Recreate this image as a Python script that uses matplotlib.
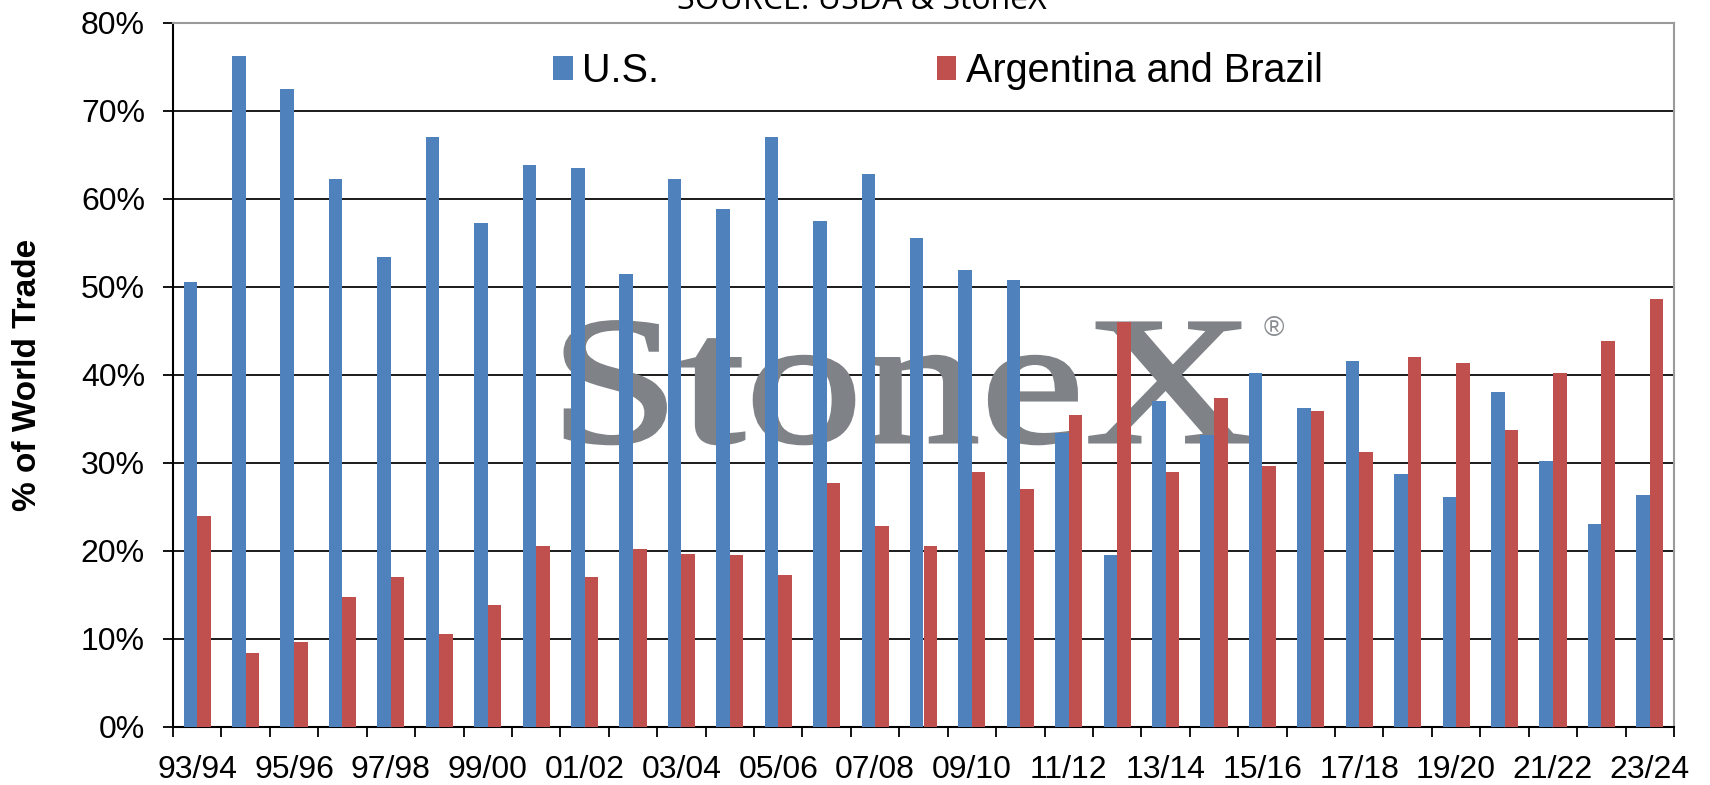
import matplotlib.pyplot as plt
import numpy as np
from matplotlib.textpath import TextPath
from matplotlib.patches import PathPatch
from matplotlib.font_manager import FontProperties
from matplotlib.transforms import Affine2D

# * Dados
safras = ["93/94", "94/95", "95/96", "96/97", "97/98", "98/99", "99/00", "00/01",
          "01/02", "02/03", "03/04", "04/05", "05/06", "06/07", "07/08", "08/09",
          "09/10", "10/11", "11/12", "12/13", "13/14", "14/15", "15/16", "16/17",
          "17/18", "18/19", "19/20", "20/21", "21/22", "22/23", "23/24"]

eua = [50.6, 76.3, 72.5, 62.3, 53.4, 67.0, 57.3, 63.9, 63.5, 51.5, 62.3, 58.9,
       67.0, 57.5, 62.8, 55.6, 51.9, 50.8, 33.4, 19.5, 37.1, 33.2, 40.2, 36.3,
       41.6, 28.8, 26.1, 38.1, 30.2, 23.1, 26.4]

arg_bra = [24.0, 8.4, 9.7, 14.8, 17.1, 10.6, 13.9, 20.6, 17.0, 20.2, 19.7, 19.5,
           17.3, 27.7, 22.8, 20.6, 29.0, 27.0, 35.4, 46.0, 29.0, 37.4, 29.7, 35.9,
           31.3, 42.1, 41.4, 33.7, 40.2, 43.9, 48.6]

legenda = ["U.S.", "Argentina and Brazil"]
cores = ["#4F81BD", "#C0504D"]

plt.rcParams["font.family"] = ["Liberation Sans", "DejaVu Sans"]

W, H = 1710, 785
fig = plt.figure(figsize=(W / 100, H / 100), dpi=100)
ax = fig.add_axes([173 / W, 58 / H, 1501 / W, 704 / H])

x = np.arange(len(safras))
largura = 0.28
ax.bar(x - largura / 2, eua, largura, color=cores[0], label=legenda[0], zorder=3)
ax.bar(x + largura / 2, arg_bra, largura, color=cores[1], label=legenda[1], zorder=3)

# * Eixo y
ax.set_ylim(0, 80)
ax.set_yticks(np.arange(0, 81, 10))
ax.set_yticklabels([f"{v}%" for v in range(0, 81, 10)])
ax.grid(axis="y", color="#1a1a1a", linewidth=1.4, zorder=1)
ax.set_axisbelow(True)
ax.tick_params(axis="y", labelsize=23, length=7.2, width=1.3, pad=13)
ax.set_ylabel("% of World Trade", fontsize=24, fontweight="bold")
ax.yaxis.set_label_coords(-0.0866, 0.5)

# * Eixo x: marcas nas divisas, rotulos a cada duas safras
ax.set_xlim(-0.5, len(safras) - 0.5)
ax.set_xticks(np.arange(len(safras) + 1) - 0.5)
ax.set_xticklabels([])
ax.set_xticks(x[::2], minor=True)
ax.set_xticklabels(safras[::2], minor=True)
ax.tick_params(axis="x", which="major", length=7.2, width=1.3)
ax.tick_params(axis="x", which="minor", length=0, labelsize=23, pad=20)

for lado in ["left", "bottom"]:
    ax.spines[lado].set_color("black")
    ax.spines[lado].set_linewidth(1.5)
for lado in ["top", "right"]:
    ax.spines[lado].set_color("#9a9a9a")
    ax.spines[lado].set_linewidth(1.5)

# * Legenda
ax.legend(loc="center left", bbox_to_anchor=(0.253, 0.932), ncol=2,
          frameon=False, fontsize=28.5, handlelength=0.5, handleheight=0.55,
          handletextpad=0.25, columnspacing=7.0, borderpad=0, borderaxespad=0)

# * Marca d'agua StoneX (esticada na horizontal)
tp = TextPath((0, 0), "StoneX", size=1, prop=FontProperties(family="Liberation Serif"))
ext = tp.get_extents()
sx = 685 / ext.width
sy = 120 / 0.66
marca = PathPatch(tp, facecolor="#7f8388", edgecolor="#7f8388", linewidth=2.2,
                  zorder=2,
                  transform=Affine2D().translate(-ext.x0, 0).scale(sx / W, sy / H)
                  .translate(565 / W, 343 / H) + fig.transFigure)
marca.set_clip_on(False)
ax.add_patch(marca)
fig.text(1274 / W, 1 - 329 / H, "®", fontsize=20, color="#8a8e92",
         ha="center", va="center")

# * Titulo cortado no topo
fig.text(862 / W, 1 - 9 / H, "SOURCE: USDA & StoneX", fontsize=23,
         ha="center", va="baseline", family=["Open Sans", "DejaVu Sans"])

plt.savefig("out.png", dpi=100)
